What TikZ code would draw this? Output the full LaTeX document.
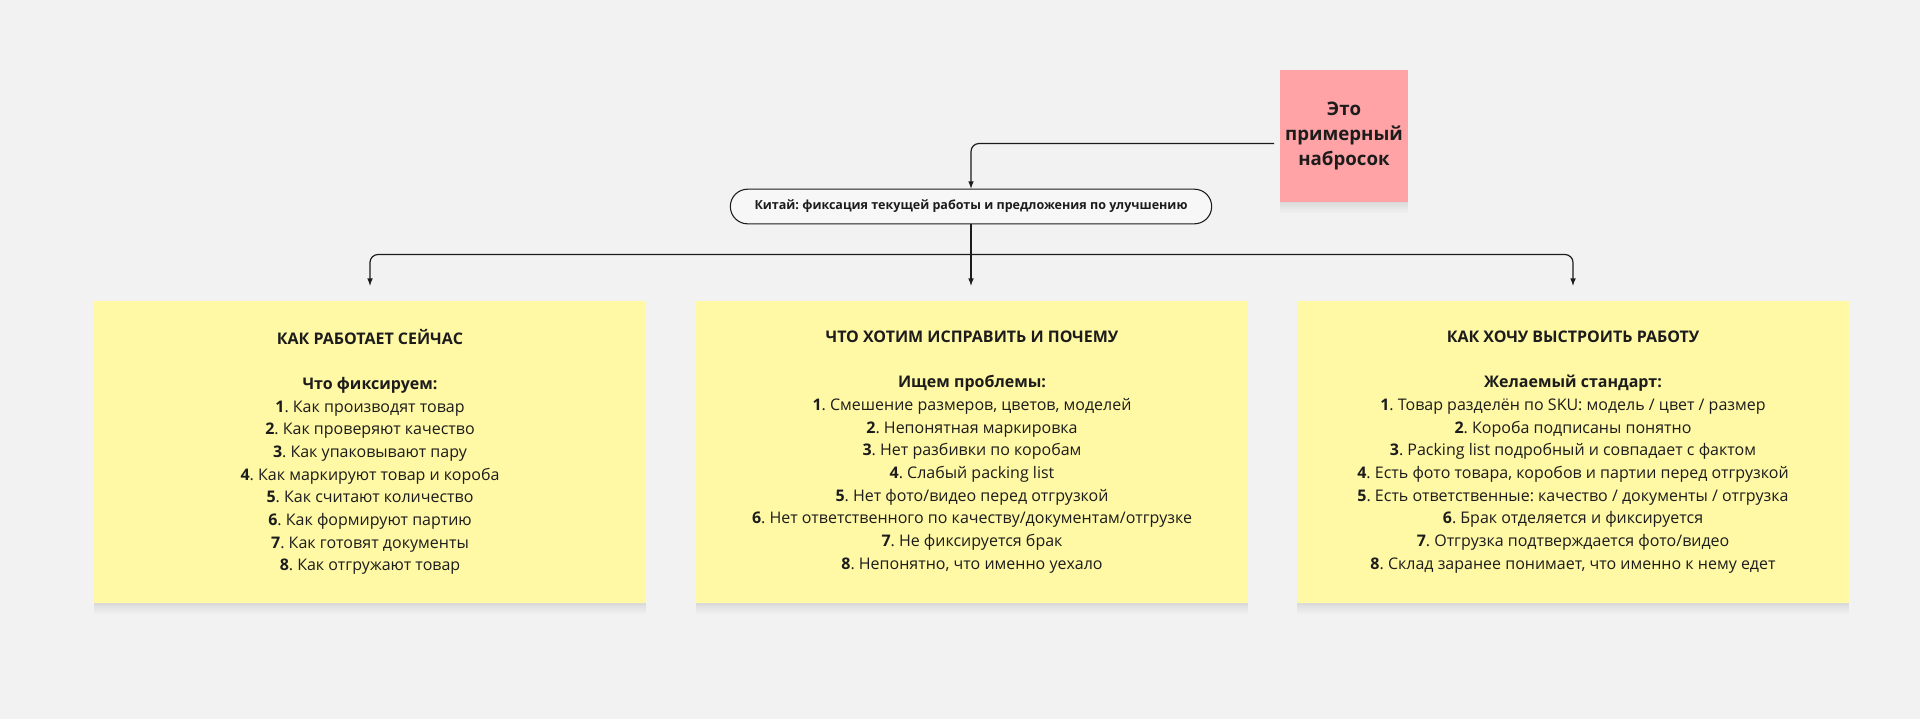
\documentclass[tikz,border=0pt]{standalone}
\usepackage{fontspec}
\setmainfont{Open Sans}
\frenchspacing
\usetikzlibrary{positioning,calc}
\tikzset{>=latex}
\definecolor{board}{HTML}{F2F2F2}
\definecolor{stickyyellow}{HTML}{FFF8A4}
\definecolor{stickypink}{HTML}{FFA3A6}
\definecolor{ink}{HTML}{1C1C1C}
\tikzset{
	soft/.style={preaction={fill=black, fill opacity=0.015, transform canvas={yshift=-#1}}},
	softshadow/.style={soft=1pt, soft=2pt, soft=3.5pt, soft=5pt, soft=6.5pt, soft=8pt},
	sticky/.style={softshadow, fill=stickyyellow, text=ink, align=center, inner sep=0pt, minimum width=414pt, minimum height=227pt, font=\fontsize{12}{17}\selectfont},
	pinknote/.style={softshadow, fill=stickypink, text=ink, align=center, inner sep=0pt, minimum width=96pt, minimum height=99pt, font=\fontsize{14}{18.5}\selectfont\bfseries},
	pill/.style={draw=ink, fill=board!60!white, text=ink, line width=0.8pt, rounded corners=13pt, minimum width=361pt, minimum height=26pt, inner sep=0pt, font=\fontsize{9.4}{11}\selectfont\bfseries},
	conn/.style={->, draw=ink, line width=0.9pt, rounded corners=6pt}
}

\begin{document}
\begin{tikzpicture}[x=0.75pt, y=-0.75pt]

	\fill[board] (0,0) rectangle (1920,719);
	\useasboundingbox (0,0) rectangle (1920,719);

	\node (note) [pinknote] at (1344,136) {Это\\примерный\\набросок};

	\node (title) [pill] at (971,206.5) {Китай: фиксация текущей работы и предложения по улучшению};

	\node (now) [sticky] at (370,452) {\textbf{КАК РАБОТАЕТ СЕЙЧАС}\\[17pt]
		\textbf{Что фиксируем:}\\
		\textbf{1}. Как производят товар\\
		\textbf{2}. Как проверяют качество\\
		\textbf{3}. Как упаковывают пару\\
		\textbf{4}. Как маркируют товар и короба\\
		\textbf{5}. Как считают количество\\
		\textbf{6}. Как формируют партию\\
		\textbf{7}. Как готовят документы\\
		\textbf{8}. Как отгружают товар};

	\node (fix) [sticky] at (972,452) {\textbf{ЧТО ХОТИМ ИСПРАВИТЬ И ПОЧЕМУ}\\[17pt]
		\textbf{Ищем проблемы:}\\
		\textbf{1}. Смешение размеров, цветов, моделей\\
		\textbf{2}. Непонятная маркировка\\
		\textbf{3}. Нет разбивки по коробам\\
		\textbf{4}. Слабый packing list\\
		\textbf{5}. Нет фото/видео перед отгрузкой\\
		\textbf{6}. Нет ответственного по качеству/документам/отгрузке\\
		\textbf{7}. Не фиксируется брак\\
		\textbf{8}. Непонятно, что именно уехало};

	\node (want) [sticky] at (1573,452) {\textbf{КАК ХОЧУ ВЫСТРОИТЬ РАБОТУ}\\[17pt]
		\textbf{Желаемый стандарт:}\\
		\textbf{1}. Товар разделён по SKU: модель / цвет / размер\\
		\textbf{2}. Короба подписаны понятно\\
		\textbf{3}. Packing list подробный и совпадает с фактом\\
		\textbf{4}. Есть фото товара, коробов и партии перед отгрузкой\\
		\textbf{5}. Есть ответственные: качество / документы / отгрузка\\
		\textbf{6}. Брак отделяется и фиксируется\\
		\textbf{7}. Отгрузка подтверждается фото/видео\\
		\textbf{8}. Склад заранее понимает, что именно к нему едет};

	\coordinate (note-out) at (1274,143.5);
	\coordinate (bus) at (971,254.5);

	\draw[conn] (note-out) -| (title.north);
	\draw[conn, shorten >=11pt] (title.south) -- (title.south |- fix.north);
	\draw[conn, shorten >=11pt] (bus) -| (now.north);
	\draw[conn, shorten >=11pt] (bus) -| (want.north);

\end{tikzpicture}
\end{document}
